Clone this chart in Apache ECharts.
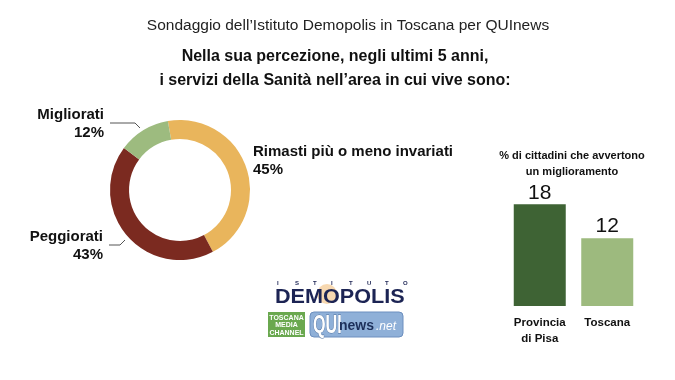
<!DOCTYPE html>
<html>
<head>
<meta charset="utf-8">
<script src="https://cdn.jsdelivr.net/npm/echarts@6/dist/echarts.min.js"></script>
<style>html,body{margin:0;padding:0;background:#fff}#c{width:675px;height:380px}</style>
</head>
<body>
<div id="c"></div>
<script>
var pieNames = ['Rimasti più o meno invariati', 'Peggiorati', 'Migliorati'];
var pieValues = [45, 43, 12];
var pieColors = ['#e9b55c', '#7b2a20', '#9dbb7f'];
var barCategories = ['Provincia\ndi Pisa', 'Toscana'];
var barValues = [18, 12];
var barColors = ['#3e6334', '#9dba7e'];

var FONT = '"Liberation Sans", Arial, Helvetica, sans-serif';

var chart = echarts.init(document.getElementById('c'), null, {renderer: 'canvas'});

var labelPos = [
  {x: 253, y: 161, align: 'left', line: null},
  {x: 103, y: 246, align: 'right', line: [[125, 240], [120, 245], [109, 245]]},
  {x: 104, y: 124, align: 'right', line: [[140, 128], [135, 123], [110, 123]]}
];

var graphics = [];
'ISTITUTO'.split('').forEach(function (ch, i) {
  graphics.push({type: 'text', x: 277 + i * 18, y: 280, style: {text: ch, font: 'bold 6px ' + FONT, fill: '#1c2454'}});
});
graphics = graphics.concat([
  {type: 'circle', shape: {cx: 327, cy: 294, r: 10}, style: {fill: '#f0b870', opacity: 0.55}},
  {type: 'text', x: 275, y: 287, scaleX: 1.08, style: {text: 'DEMOPOLIS', font: 'bold 20px ' + FONT, fill: '#1c2454'}},
  {type: 'rect', shape: {x: 268, y: 312, width: 37, height: 25}, style: {fill: '#6aa84f'}},
  {type: 'text', x: 286.5, y: 314, style: {text: 'TOSCANA\nMEDIA\nCHANNEL', font: 'bold 7px ' + FONT, lineHeight: 7.5, fill: '#ffffff', align: 'center'}},
  {type: 'rect', shape: {x: 310, y: 312, width: 93, height: 25, r: 4}, style: {fill: '#8fb0d8', stroke: '#6c8fbf'}},
  {type: 'text', x: 313, y: 313, scaleX: 0.62, style: {text: 'QUI', font: 'bold 26px ' + FONT, fill: '#ffffff', stroke: '#4f6f9c', lineWidth: 1}},
  {type: 'text', x: 339, y: 319, style: {text: 'news', font: 'bold 14px ' + FONT, fill: '#1c2f5a'}},
  {type: 'text', x: 376, y: 321, style: {text: '.net', font: 'italic 12px ' + FONT, fill: '#ffffff'}}
]);

var option = {
  backgroundColor: '#ffffff',
  animation: false,
  title: [
    {
      text: 'Sondaggio dell’Istituto Demopolis in Toscana per QUInews',
      left: 343, top: 13, textAlign: 'center',
      textStyle: {fontFamily: FONT, fontWeight: 'normal', fontSize: 15.5, color: '#222'}
    },
    {
      text: 'Nella sua percezione, negli ultimi 5 anni,\ni servizi della Sanità nell’area in cui vive sono:',
      left: 330, top: 40, textAlign: 'center',
      textStyle: {fontFamily: FONT, fontWeight: 'bold', fontSize: 16, lineHeight: 24, color: '#111'}
    },
    {
      text: '% di cittadini che avvertono\nun miglioramento',
      left: 567, top: 143, textAlign: 'center',
      textStyle: {fontFamily: FONT, fontWeight: 'bold', fontSize: 11, lineHeight: 16, color: '#111'}
    }
  ],
  grid: {left: 506, right: 34, top: 193, bottom: 74},
  xAxis: {
    type: 'category', data: barCategories,
    axisLine: {show: false}, axisTick: {show: false},
    axisLabel: {interval: 0, hideOverlap: false, fontFamily: FONT, fontWeight: 'bold', fontSize: 11.5, lineHeight: 16, color: '#111', margin: 9}
  },
  yAxis: {type: 'value', min: 0, max: 20, show: false, splitLine: {show: false}},
  series: [
    {
      type: 'bar',
      barWidth: 52,
      data: barValues.map(function (v, i) { return {value: v, itemStyle: {color: barColors[i]}}; }),
      label: {show: true, position: 'top', distance: 1, fontFamily: FONT, fontSize: 21, color: '#111'}
    },
    {
      type: 'pie',
      center: [180, 190],
      radius: [51, 70],
      startAngle: 100,
      clockwise: true,
      data: pieNames.map(function (n, i) {
        return {name: n, value: pieValues[i], itemStyle: {color: pieColors[i]}, labelLine: {show: i !== 0}};
      }),
      label: {
        show: true,
        position: 'outside',
        overflow: 'none',
        formatter: '{b}\n{c}%',
        fontFamily: FONT, fontWeight: 'bold', fontSize: 15, lineHeight: 18, color: '#111'
      },
      labelLine: {show: true, lineStyle: {color: '#555', width: 1}},
      labelLayout: function (p) {
        var lp = labelPos[p.dataIndex];
        var r = {x: lp.x, y: lp.y, align: lp.align, verticalAlign: 'middle', hideOverlap: false};
        if (lp.line) r.labelLinePoints = lp.line;
        return r;
      },
      emphasis: {disabled: true}
    }
  ],
  graphic: graphics
};
chart.setOption(option);
</script>
</body>
</html>
